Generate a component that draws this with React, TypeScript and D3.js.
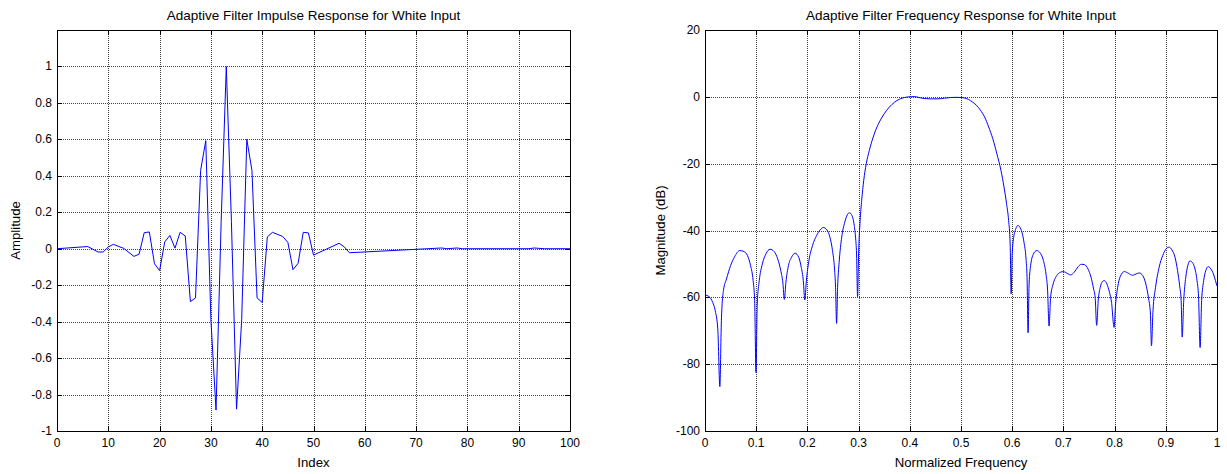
import React from "react";
import * as d3 from "d3";

// ---- Impulse response (vertices of the polyline) ----
const impulseIndex = [0, 6, 8, 9, 10, 11, 13, 15, 16, 17, 18, 19, 20, 21, 22, 23, 24, 25, 26, 27, 28, 29, 30, 31, 32, 33, 34, 35, 36, 37, 38, 39, 40, 41, 42, 44, 45, 46, 47, 48, 49, 50, 55, 56, 57, 75, 76, 78, 79, 92, 93, 95, 100];
const impulseValue = [0, 0.012, -0.018, -0.018, 0.01, 0.024, 0.002, -0.042, -0.03, 0.088, 0.092, -0.082, -0.12, 0.037, 0.073, 0.003, 0.09, 0.07, -0.29, -0.27, 0.43, 0.593, -0.39, -0.885, 0.15, 1.0, 0.15, -0.88, -0.39, 0.6, 0.43, -0.27, -0.295, 0.065, 0.09, 0.067, 0.035, -0.115, -0.08, 0.09, 0.087, -0.035, 0.03, 0.01, -0.022, 0.004, 0, 0.004, 0, 0, 0.004, 0, 0];

// ---- Frequency response ----
const freqX = [0.000, 0.008, 0.015, 0.020, 0.025, 0.029, 0.032, 0.036, 0.042, 0.050, 0.058, 0.068, 0.076, 0.083, 0.089, 0.094, 0.097, 0.0996, 0.102, 0.106, 0.112, 0.119, 0.127, 0.135, 0.142, 0.148, 0.152, 0.155, 0.158, 0.163, 0.169, 0.176, 0.183, 0.188, 0.192, 0.195, 0.198, 0.203, 0.210, 0.218, 0.225, 0.231, 0.238, 0.244, 0.249, 0.253, 0.255, 0.257, 0.259, 0.262, 0.267, 0.273, 0.278, 0.282, 0.287, 0.291, 0.294, 0.296, 0.298, 0.300, 0.303, 0.306, 0.310, 0.315, 0.321, 0.328, 0.336, 0.345, 0.355, 0.365, 0.375, 0.385, 0.395, 0.403, 0.410, 0.418, 0.428, 0.440, 0.455, 0.468, 0.480, 0.490, 0.500, 0.508, 0.515, 0.522, 0.530, 0.538, 0.546, 0.554, 0.562, 0.570, 0.578, 0.584, 0.589, 0.593, 0.596, 0.598, 0.600, 0.603, 0.607, 0.611, 0.615, 0.619, 0.623, 0.627, 0.629, 0.631, 0.633, 0.636, 0.641, 0.648, 0.655, 0.661, 0.666, 0.669, 0.672, 0.675, 0.680, 0.687, 0.694, 0.700, 0.707, 0.714, 0.721, 0.729, 0.735, 0.741, 0.748, 0.754, 0.759, 0.762, 0.765, 0.768, 0.772, 0.776, 0.780, 0.785, 0.790, 0.794, 0.799, 0.802, 0.806, 0.811, 0.819, 0.827, 0.835, 0.842, 0.848, 0.855, 0.861, 0.866, 0.870, 0.872, 0.875, 0.880, 0.887, 0.894, 0.900, 0.906, 0.912, 0.918, 0.923, 0.927, 0.930, 0.932, 0.935, 0.939, 0.943, 0.947, 0.952, 0.957, 0.961, 0.964, 0.967, 0.970, 0.974, 0.978, 0.983, 0.988, 0.993, 0.997, 1.000];
const freqDb = [-59.3, -59.8, -61.5, -64, -69.5, -86.7, -67, -58, -54.5, -50.5, -47.8, -46, -46.3, -47.5, -50.5, -55, -61, -82.5, -62, -55, -50, -47, -45.6, -46.3, -48.5, -52, -55.5, -60.6, -55.5, -50.5, -48, -46.8, -48, -51, -55, -60.8, -55, -49, -44.5, -41.5, -39.8, -39.1, -39.8, -42, -46, -51.5, -57, -67.8, -57, -49.5, -42, -37.5, -35.3, -34.7, -35.5, -38, -42, -47, -59.8, -47, -37, -31, -25, -20, -16, -12.3, -9, -6.3, -4, -2.3, -1.1, -0.4, -0.05, 0.05, 0.05, -0.2, -0.5, -0.6, -0.6, -0.4, -0.2, -0.15, -0.2, -0.4, -0.8, -1.5, -2.5, -4, -6, -9, -12.5, -17, -22, -27, -32, -37, -44, -59, -47, -42, -39.5, -38.5, -39, -40.5, -43.5, -48.5, -54, -70.6, -56, -50.5, -47.2, -46, -46.8, -49, -53, -57.5, -68.6, -60, -56, -53.5, -52.5, -52.3, -52.8, -53.3, -52.5, -50.8, -50.1, -50.2, -51.5, -54, -57.5, -60, -68.4, -61, -57, -55.3, -55, -56, -58.5, -61.5, -69, -62, -57, -53.8, -52.3, -52.8, -53.4, -53, -52.7, -53.5, -56, -60, -65, -74.5, -64, -57, -51, -47.5, -45.6, -45, -45.8, -48, -52, -56.5, -61, -71.9, -61, -54, -50.5, -49.1, -49.6, -51.5, -55, -60, -75, -61, -55, -52, -50.8, -51.5, -53, -55, -56.6];

// ---- Tick values ----
const impulseXTicks = [0, 10, 20, 30, 40, 50, 60, 70, 80, 90, 100];
const impulseYTicks = [-1, -0.8, -0.6, -0.4, -0.2, 0, 0.2, 0.4, 0.6, 0.8, 1];
const freqXTicks = [0, 0.1, 0.2, 0.3, 0.4, 0.5, 0.6, 0.7, 0.8, 0.9, 1];
const freqYTicks = [-100, -80, -60, -40, -20, 0, 20];

const FONT = "'Liberation Sans', Arial, Helvetica, sans-serif";

type PanelProps = {
  left: number; right: number; top: number; bottom: number;
  xDomain: [number, number]; yDomain: [number, number];
  xTicks: number[]; yTicks: number[];
  xs: number[]; ys: number[];
  title: string; xLabel: string; yLabel: string; yLabelX: number;
  curve: any;
};

function Panel(p: PanelProps) {
  const x = d3.scaleLinear().domain(p.xDomain).range([p.left, p.right]);
  const y = d3.scaleLinear().domain(p.yDomain).range([p.bottom, p.top]);
  const pts: [number, number][] = p.xs.map((v, i) => [v, p.ys[i]]);
  const line = d3.line<[number, number]>().x(d => x(d[0])).y(d => y(d[1])).curve(p.curve);
  const tl = 5;
  const fmt = (v: number) => String(Math.round(v * 1000) / 1000);
  const cx = (p.left + p.right) / 2;
  const cy = (p.top + p.bottom) / 2;
  return (
    <g>
      <rect x={p.left} y={p.top} width={p.right - p.left} height={p.bottom - p.top} fill="#fff" />
      {p.xTicks.map((t, i) => {
        const px = Math.round(x(t)) + 0.5;
        const edge = i === 0 || i === p.xTicks.length - 1;
        return (
          <g key={"xt" + i}>
            {!edge && <line x1={px} x2={px} y1={p.top} y2={p.bottom} stroke="#444" strokeDasharray="1,1" />}
            <line x1={px} x2={px} y1={p.bottom} y2={p.bottom - tl} stroke="#000" />
            <line x1={px} x2={px} y1={p.top} y2={p.top + tl} stroke="#000" />
            <text x={x(t)} y={p.bottom + 16} textAnchor="middle" fontSize={12} fontFamily={FONT} fill="#000">{fmt(t)}</text>
          </g>
        );
      })}
      {p.yTicks.map((t, i) => {
        const py = Math.round(y(t)) + 0.5;
        const edge = Math.abs(y(t) - p.bottom) < 1 || Math.abs(y(t) - p.top) < 1;
        return (
          <g key={"yt" + i}>
            {!edge && <line x1={p.left} x2={p.right} y1={py} y2={py} stroke="#444" strokeDasharray="1,1" />}
            <line x1={p.left} x2={p.left + tl} y1={py} y2={py} stroke="#000" />
            <line x1={p.right} x2={p.right - tl} y1={py} y2={py} stroke="#000" />
            <text x={p.left - 5} y={y(t) + 4} textAnchor="end" fontSize={12} fontFamily={FONT} fill="#000">{fmt(t)}</text>
          </g>
        );
      })}
      <path d={line(pts) || ""} fill="none" stroke="#0000ff" strokeWidth={1} />
      <rect x={p.left + 0.5} y={p.top + 0.5} width={p.right - p.left} height={p.bottom - p.top} fill="none" stroke="#000" strokeWidth={1} />
      <text x={cx} y={p.top - 10} textAnchor="middle" fontSize={13.5} fontFamily={FONT} fill="#000">{p.title}</text>
      <text x={cx} y={p.bottom + 36} textAnchor="middle" fontSize={13.2} fontFamily={FONT} fill="#000">{p.xLabel}</text>
      <text transform={`translate(${p.yLabelX},${cy}) rotate(-90)`} textAnchor="middle" dominantBaseline="central" fontSize={13.2} fontFamily={FONT} fill="#000">{p.yLabel}</text>
    </g>
  );
}

export default function App() {
  return (
    <svg width={1227} height={474} style={{ position: "absolute", left: 0, top: 0, background: "#fff" }}>
      <rect x={0} y={0} width={1227} height={474} fill="#fff" />
      <Panel left={57} right={570} top={30} bottom={431}
        xDomain={[0, 100]} yDomain={[-1, 1.2]}
        xTicks={impulseXTicks} yTicks={impulseYTicks}
        xs={impulseIndex} ys={impulseValue}
        title="Adaptive Filter Impulse Response for White Input"
        xLabel="Index" yLabel="Amplitude" yLabelX={15}
        curve={d3.curveLinear} />
      <Panel left={705} right={1217} top={30} bottom={431}
        xDomain={[0, 1]} yDomain={[-100, 20]}
        xTicks={freqXTicks} yTicks={freqYTicks}
        xs={freqX} ys={freqDb}
        title="Adaptive Filter Frequency Response for White Input"
        xLabel="Normalized Frequency" yLabel="Magnitude (dB)" yLabelX={660}
        curve={d3.curveMonotoneX} />
    </svg>
  );
}
